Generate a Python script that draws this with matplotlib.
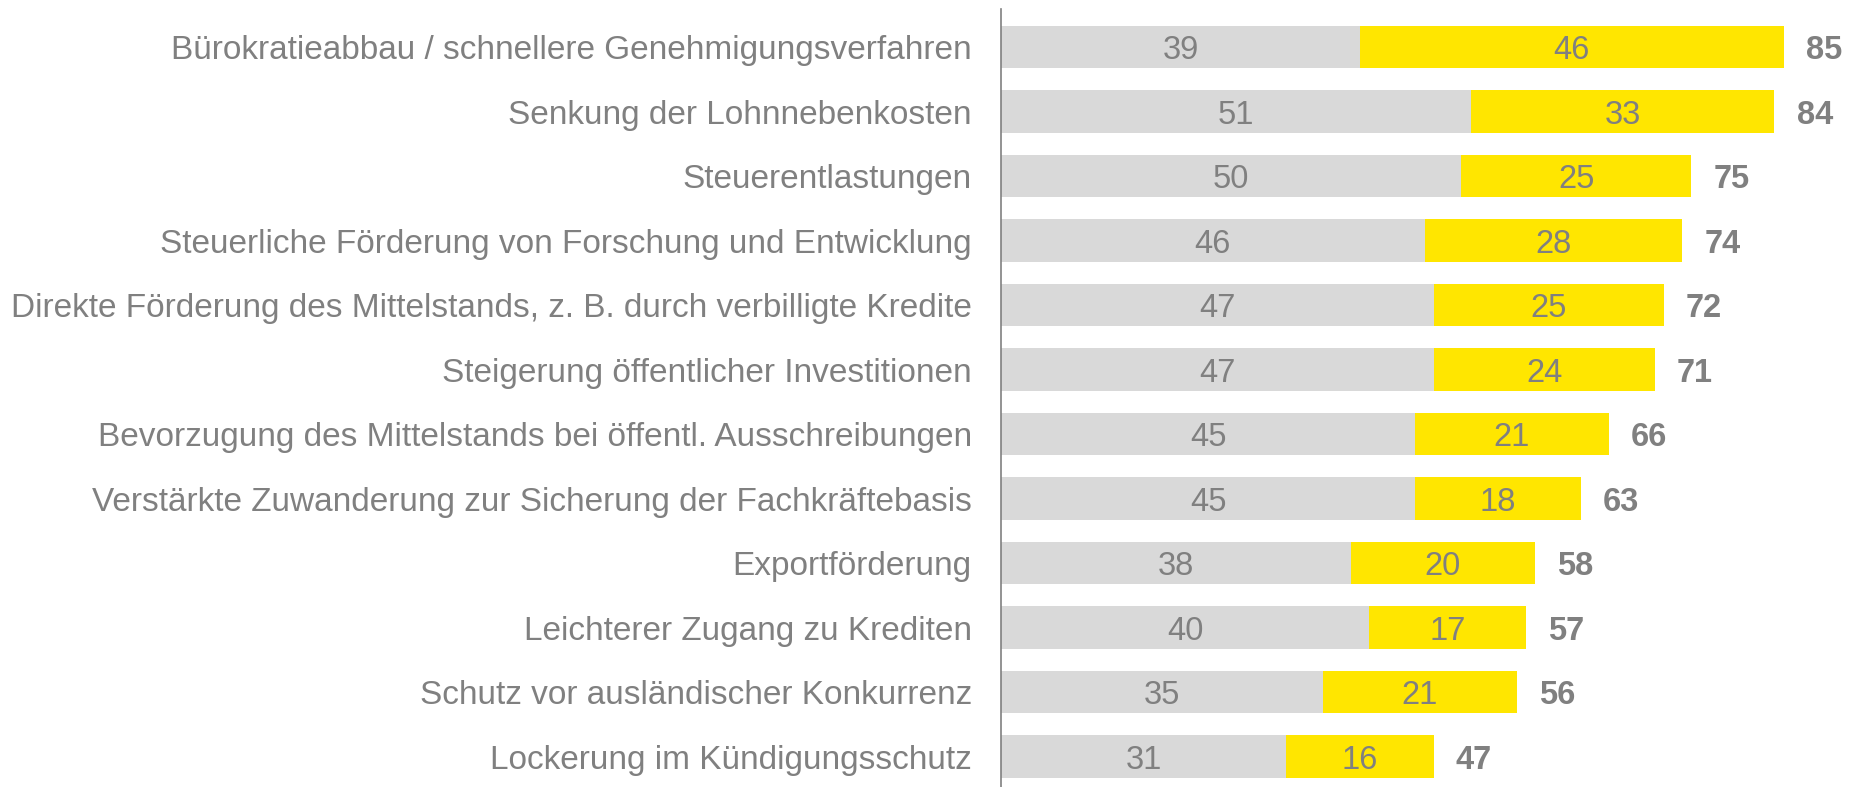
import matplotlib
matplotlib.use('Agg')
import matplotlib.pyplot as plt
import numpy as np

plt.rcParams['font.family'] = ['Liberation Sans', 'DejaVu Sans']

categories = [
    "Bürokratieabbau / schnellere Genehmigungsverfahren",
    "Senkung der Lohnnebenkosten",
    "Steuerentlastungen",
    "Steuerliche Förderung von Forschung und Entwicklung",
    "Direkte Förderung des Mittelstands, z. B. durch verbilligte Kredite",
    "Steigerung öffentlicher Investitionen",
    "Bevorzugung des Mittelstands bei öffentl. Ausschreibungen",
    "Verstärkte Zuwanderung zur Sicherung der Fachkräftebasis",
    "Exportförderung",
    "Leichterer Zugang zu Krediten",
    "Schutz vor ausländischer Konkurrenz",
    "Lockerung im Kündigungsschutz",
]
grey_vals = [39, 51, 50, 46, 47, 47, 45, 45, 38, 40, 35, 31]
yellow_vals = [46, 33, 25, 28, 25, 24, 21, 18, 20, 17, 21, 16]
totals = [85, 84, 75, 74, 72, 71, 66, 63, 58, 57, 56, 47]

GREY = '#D9D9D9'
YELLOW = '#FFE600'
TEXT = '#808080'

W, H = 1851, 787
fig = plt.figure(figsize=(W / 100, H / 100), dpi=100)
left_px, right_px = 1001, 1848
ax = fig.add_axes([left_px / W, 0, (right_px - left_px) / W, 778 / H])

y = np.arange(len(categories))
ax.barh(y, grey_vals, height=0.66, color=GREY)
ax.barh(y, yellow_vals, left=grey_vals, height=0.66, color=YELLOW)

for i in range(len(categories)):
    ax.text(grey_vals[i] / 2, y[i], str(grey_vals[i]), ha='center', va='center_baseline',
            fontsize=23.5, color=TEXT)
    ax.text(grey_vals[i] + yellow_vals[i] / 2, y[i], str(yellow_vals[i]), ha='center',
            va='center_baseline', fontsize=23.5, color=TEXT)
    ax.annotate(str(totals[i]), (grey_vals[i] + yellow_vals[i], y[i]), xytext=(16, 0),
                textcoords='offset points', ha='left', va='center_baseline', fontsize=23.5,
                fontweight='bold', color=TEXT)

ax.set_xlim(0, 92)
ax.set_ylim(11.47, -0.59)
ax.set_yticks(y)
ax.set_yticklabels(categories, fontsize=24, color=TEXT)
ax.tick_params(axis='y', length=0, pad=21)
ax.set_xticks([])
for s in ['top', 'right', 'bottom']:
    ax.spines[s].set_visible(False)
ax.spines['left'].set_color(TEXT)
ax.spines['left'].set_linewidth(1.2)

fig.savefig('out.png', dpi=100)
